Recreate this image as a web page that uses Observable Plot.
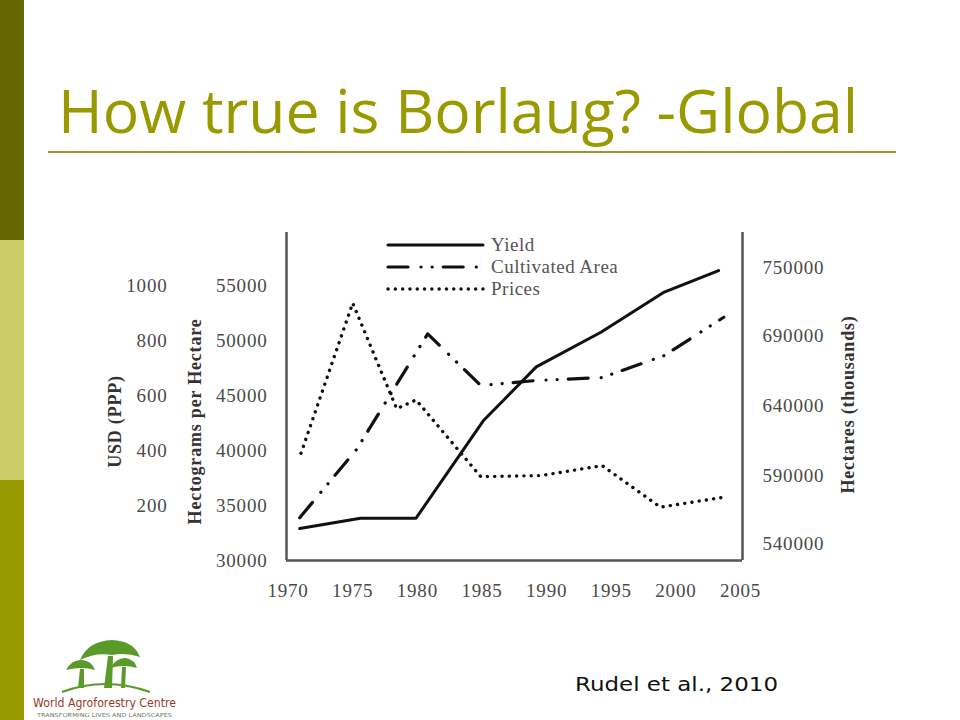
<!DOCTYPE html>
<html>
<head>
<meta charset="utf-8">
<script src="https://cdn.jsdelivr.net/npm/d3@7"></script>
<script src="https://cdn.jsdelivr.net/npm/@observablehq/plot@0.6"></script>
<style>
  html, body { margin: 0; padding: 0; background: #fff; }
  #slide { position: relative; width: 960px; height: 720px; background: #fff; overflow: hidden; }
  .band { position: absolute; left: 0; width: 24px; }
  #chart { position: absolute; left: 100px; top: 220px; }
  #overlay { position: absolute; left: 0; top: 0; }
</style>
</head>
<body>
<div id="slide">
  <div class="band" style="top:0;height:240px;background:#666600"></div>
  <div class="band" style="top:240px;height:240px;background:#cccc66"></div>
  <div class="band" style="top:480px;height:240px;background:#999900"></div>
  <div id="chart"></div>
  <svg id="overlay" width="960" height="720"></svg>
</div>
<script>
// ---- data ----
const xTicks = [1970, 1975, 1980, 1985, 1990, 1995, 2000, 2005];
const hgTicks = [30000, 35000, 40000, 45000, 50000, 55000];
const usdTicks = [200, 400, 600, 800, 1000];
const areaTicks = [540000, 590000, 640000, 690000, 750000];

const yieldYears  = [1970.9, 1975.6, 1979.9, 1985.1, 1989.2, 1994.2, 1999.1, 2003.3];
const yieldValues = [32900, 33850, 33850, 42700, 47600, 50750, 54400, 56350];   // hectograms per hectare

const areaYears  = [1970.9, 1975.3, 1980.8, 1984.9, 1989.2, 1994.3, 1999.1, 2003.7];
const areaValues = [558900, 608600, 691500, 654300, 657900, 660000, 675700, 706100]; // hectares (thousands)

const priceYears  = [1971.0, 1975.0, 1978.4, 1979.9, 1984.9, 1989.6, 1994.3, 1998.8, 2003.7];
const priceValues = [390, 936, 552, 584, 305, 309, 345, 194, 230];               // USD (PPP)

const seriesNames = ["Yield", "Cultivated Area", "Prices"];

// ---- secondary axes mapped into the primary (hectogram) units ----
const usdToHg = d3.scaleLinear().domain([0, 1000]).range([30000, 55000]);
// the right axis ticks are evenly spaced in the reference
const areaToHg = d3.scaleLinear().domain(areaTicks).range([31550, 37730, 44090, 50450, 56640]);

const yieldData = yieldYears.map((year, i) => ({year, v: yieldValues[i]}));
const areaData  = areaYears.map((year, i) => ({year, v: areaValues[i]}));
const priceData = priceYears.map((year, i) => ({year, v: priceValues[i]}));

const ink = "#111";
const tickColor = "#4a4a4a";
const serif = "'Liberation Serif', 'Times New Roman', serif";

const chart = Plot.plot({
  width: 780,
  height: 395,
  marginLeft: 186,
  marginRight: 138,
  marginTop: 12,
  marginBottom: 55,
  style: {background: "transparent", fontFamily: serif, fontSize: "19px", color: tickColor, letterSpacing: "0.8px"},
  x: {domain: [1969.88, 2005.15]},
  y: {domain: [30000, 59818]},
  marks: [
    Plot.axisX({ticks: xTicks, tickFormat: d => String(d), tickSize: 0, tickPadding: 23, label: null, fill: tickColor}),
    Plot.axisY({ticks: hgTicks, tickFormat: d => String(d), tickSize: 0, tickPadding: 19, label: null, fill: tickColor}),
    Plot.axisY({ticks: usdTicks.map(usdToHg), tickFormat: d => String(Math.round(usdToHg.invert(d))), tickSize: 0, tickPadding: 119, label: null, fill: tickColor}),
    Plot.axisY({anchor: "right", ticks: areaTicks.map(areaToHg), tickFormat: d => String(Math.round(areaToHg.invert(d) / 10000) * 10000), tickSize: 0, tickPadding: 20, label: null, fill: tickColor}),
    Plot.text([0], {frameAnchor: "left", textAnchor: "middle", text: () => "USD (PPP)", rotate: -90, dx: -171, dy: 25, fontWeight: "bold", fontSize: 18, fill: "#333"}),
    Plot.text([0], {frameAnchor: "left", textAnchor: "middle", text: () => "Hectograms per Hectare", rotate: -90, dx: -91, dy: 25, fontWeight: "bold", fontSize: 18, fill: "#333"}),
    Plot.text([0], {frameAnchor: "right", textAnchor: "middle", text: () => "Hectares (thousands)", rotate: -90, dx: 106, dy: 8, fontWeight: "bold", fontSize: 18, fill: "#333"}),
    Plot.ruleX([1969.88, 2005.15], {stroke: "#555", strokeWidth: 2.5}),
    Plot.ruleY([30000], {stroke: "#555", strokeWidth: 2.5}),
    Plot.line(priceData, {x: "year", y: d => usdToHg(d.v), stroke: ink, strokeWidth: 3.4, strokeDasharray: "0.1,7.2", strokeLinecap: "round"}),
    Plot.line(areaData, {x: "year", y: d => areaToHg(d.v), stroke: ink, strokeWidth: 3.2, strokeDasharray: "20,13,0.1,11,0.1,11", strokeLinecap: "round"}),
    Plot.line(yieldData, {x: "year", y: "v", stroke: ink, strokeWidth: 3})
  ]
});
document.getElementById("chart").appendChild(chart);

// ---- slide decoration, legend, caption ----
const ov = d3.select("#overlay");
ov.append("text").attr("x", 58).attr("y", 133)
  .attr("font-family", "'Open Sans', 'DejaVu Sans', sans-serif").attr("font-size", 61)
  .attr("fill", "#999900").attr("textLength", 800).attr("lengthAdjust", "spacingAndGlyphs")
  .text("How true is Borlaug? -Global");
ov.append("line").attr("x1", 48).attr("x2", 896).attr("y1", 152).attr("y2", 152)
  .attr("stroke", "#999933").attr("stroke-width", 2);

const legendStyles = [
  {dash: null, w: 3},
  {dash: "20,13,0.1,11,0.1,11", w: 3.2},
  {dash: "0.1,7.2", w: 3.4}
];
seriesNames.forEach((name, i) => {
  const y = 245 + i * 22;
  ov.append("line").attr("x1", 388).attr("x2", 483).attr("y1", y).attr("y2", y)
    .attr("stroke", ink).attr("stroke-width", legendStyles[i].w)
    .attr("stroke-linecap", "round")
    .attr("stroke-dasharray", legendStyles[i].dash);
  ov.append("text").attr("x", 491).attr("y", y + 6)
    .attr("font-family", serif).attr("font-size", 19).attr("letter-spacing", "0.5px")
    .attr("fill", "#555").text(name);
});

ov.append("text").attr("x", 575).attr("y", 691)
  .attr("font-family", "'DejaVu Sans', Verdana, sans-serif").attr("font-size", 20)
  .attr("fill", "#111").attr("textLength", 203).attr("lengthAdjust", "spacingAndGlyphs")
  .text("Rudel et al., 2010");

// logo
const logo = ov.append("g");
const green = "#5a9a2a";
logo.append("path").attr("d", "M62,692 Q105,676 150,692").attr("fill", "none").attr("stroke", green).attr("stroke-width", 2);
// main tree
logo.append("path").attr("d", "M80,660 Q88,641 112,640 Q134,641 140,657 Q126,652 112,655 Q96,652 80,660 Z").attr("fill", green);
logo.append("path").attr("d", "M104,688 L108,656 L113,656 L112,688 Z").attr("fill", green);
// small left tree
logo.append("path").attr("d", "M66,670 Q72,659 82,660 Q92,661 95,670 Q82,666 66,670 Z").attr("fill", green);
logo.append("path").attr("d", "M78,688 L80,669 L84,669 L84,688 Z").attr("fill", green);
// small right tree
logo.append("path").attr("d", "M110,668 Q117,657 126,658 Q135,660 137,668 Q124,664 110,668 Z").attr("fill", green);
logo.append("path").attr("d", "M121,688 L122,667 L126,667 L125,688 Z").attr("fill", green);
logo.append("text").attr("x", 33).attr("y", 707)
  .attr("font-family", "'DejaVu Sans', sans-serif").attr("font-size", 12)
  .attr("fill", "#9a3a2a").attr("textLength", 143).attr("lengthAdjust", "spacingAndGlyphs")
  .text("World Agroforestry Centre");
logo.append("text").attr("x", 37).attr("y", 717)
  .attr("font-family", "'DejaVu Sans', sans-serif").attr("font-size", 5.5)
  .attr("fill", "#6a7a5a").attr("textLength", 135).attr("lengthAdjust", "spacingAndGlyphs")
  .text("TRANSFORMING LIVES AND LANDSCAPES");
</script>
</body>
</html>
